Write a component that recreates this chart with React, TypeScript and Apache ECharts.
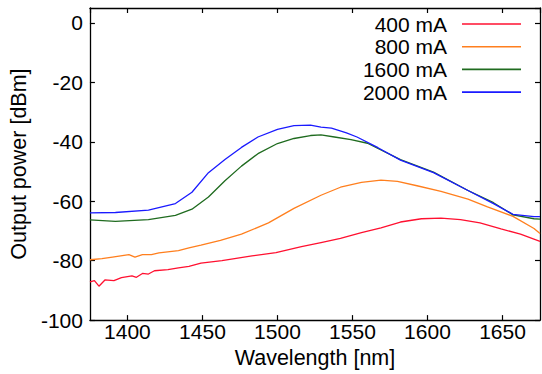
import React, { useEffect, useRef } from "react";
import * as echarts from "echarts";

// Output spectra: wavelength [nm] and output power [dBm] per drive current
const wl400 = [1375, 1378, 1381, 1385, 1391, 1396, 1403, 1406, 1410, 1414, 1418, 1427, 1434, 1441, 1449, 1463, 1483, 1499, 1516, 1529, 1542, 1556, 1569, 1582, 1596, 1609, 1622, 1635, 1649, 1662, 1675];
const pw400 = [-87.1, -86.7, -88.6, -86.5, -86.7, -85.7, -85.1, -85.6, -84.3, -84.5, -83.4, -83.0, -82.4, -81.9, -80.8, -80.0, -78.4, -77.3, -75.3, -73.9, -72.5, -70.6, -69.0, -67.0, -65.9, -65.7, -66.2, -67.3, -69.3, -71.1, -73.5];

const wl800 = [1375, 1383, 1390, 1401, 1405, 1410, 1416, 1421, 1434, 1441, 1449, 1462, 1476, 1494, 1511, 1529, 1542, 1556, 1569, 1580, 1593, 1609, 1627, 1640, 1657, 1671, 1675];
const pw800 = [-79.7, -79.3, -78.8, -78.0, -78.8, -78.0, -78.0, -77.4, -76.6, -75.7, -74.8, -73.2, -71.1, -67.3, -62.4, -58.0, -55.3, -53.7, -52.9, -53.3, -54.8, -56.7, -59.3, -61.9, -65.1, -69.2, -70.9];

const wl1600 = [1375, 1392, 1414, 1432, 1443, 1454, 1465, 1476, 1487, 1500, 1511, 1522, 1529, 1538, 1549, 1560, 1582, 1604, 1627, 1644, 1657, 1671, 1675];
const pw1600 = [-66.3, -66.8, -66.2, -64.8, -62.7, -58.6, -53.1, -48.2, -44.0, -40.6, -38.9, -37.9, -37.7, -38.4, -39.3, -40.5, -46.0, -50.2, -56.4, -60.5, -64.6, -65.9, -66.0];

const wl2000 = [1375, 1392, 1414, 1432, 1443, 1454, 1465, 1476, 1487, 1500, 1511, 1522, 1529, 1536, 1546, 1553, 1567, 1582, 1604, 1627, 1644, 1657, 1671, 1675];
const pw2000 = [-63.9, -63.8, -63.0, -60.8, -57.0, -50.4, -46.0, -41.9, -38.4, -35.8, -34.6, -34.4, -35.1, -35.4, -37.0, -38.4, -42.0, -46.2, -50.4, -56.4, -60.8, -64.4, -65.2, -65.2];

const seriesNames = ["400 mA", "800 mA", "1600 mA", "2000 mA"];
const seriesColors = ["#ff1030", "#ff7f1e", "#1f6b1f", "#1a1aff"];

const X_MIN = 1375;
const X_MAX = 1675;
const Y_MIN = -100;
const Y_MAX = 5;

const FONT = "'Liberation Sans', Arial, Helvetica, sans-serif";

function pairs(x: number[], y: number[]) {
  return x.map((v, i) => [v, y[i]]);
}

export default function App() {
  const ref = useRef<HTMLDivElement>(null);

  useEffect(() => {
    if (!ref.current) return;
    const chart = echarts.init(ref.current, undefined, { renderer: "svg" });

    const seriesData = [
      pairs(wl400, pw400),
      pairs(wl800, pw800),
      pairs(wl1600, pw1600),
      pairs(wl2000, pw2000),
    ];

    const axisLine = { show: true, onZero: false, lineStyle: { color: "#000", width: 1.3 } };
    const axisTick = { show: true, inside: true, length: 5, lineStyle: { color: "#000", width: 1.2 } };

    chart.setOption({
      animation: false,
      backgroundColor: "#fff",
      textStyle: { fontFamily: FONT },
      grid: { left: 88, right: 2, top: 8, bottom: 46, containLabel: false },
      legend: {
        orient: "vertical",
        align: "right",
        right: 21,
        top: 13.5,
        padding: 0,
        icon: "rect",
        itemWidth: 59,
        itemHeight: 1.6,
        itemGap: 1.7,
        data: seriesNames,
        textStyle: {
          fontFamily: FONT,
          fontSize: 21,
          color: "#000",
          lineHeight: 21,
          padding: [0, 10, 0, 0],
        },
      },
      xAxis: [
        {
          type: "value",
          min: X_MIN,
          max: X_MAX,
          splitNumber: 6,
          position: "bottom",
          name: "Wavelength [nm]",
          nameLocation: "middle",
          nameGap: 22,
          nameTextStyle: { fontFamily: FONT, fontSize: 21.5, color: "#000" },
          axisLine,
          axisTick,
          splitLine: { show: false },
          axisLabel: {
            fontFamily: FONT,
            fontSize: 21,
            color: "#000",
            margin: 1,
            showMinLabel: false,
            showMaxLabel: false,
            formatter: (v: number) => (v % 50 === 0 ? String(v) : ""),
          },
        },
        {
          type: "value",
          min: X_MIN,
          max: X_MAX,
          splitNumber: 6,
          position: "top",
          axisLine,
          axisTick,
          splitLine: { show: false },
          axisLabel: { show: false },
        },
      ],
      yAxis: [
        {
          type: "value",
          min: Y_MIN,
          max: Y_MAX,
          interval: 20,
          position: "left",
          name: "Output power [dBm]",
          nameLocation: "middle",
          nameGap: 54,
          nameTextStyle: { fontFamily: FONT, fontSize: 21.5, color: "#000" },
          axisLine,
          axisTick,
          splitLine: { show: false },
          axisLabel: {
            fontFamily: FONT,
            fontSize: 21,
            color: "#000",
            margin: 7,
            showMaxLabel: false,
            formatter: (v: number) => (v % 20 === 0 ? String(v) : ""),
          },
        },
        {
          type: "value",
          min: Y_MIN,
          max: Y_MAX,
          interval: 20,
          position: "right",
          axisLine,
          axisTick,
          splitLine: { show: false },
          axisLabel: { show: false },
        },
      ],
      series: seriesNames.map((name, i) => ({
        name,
        type: "line",
        xAxisIndex: 0,
        yAxisIndex: 0,
        data: seriesData[i],
        showSymbol: false,
        symbol: "none",
        smooth: false,
        lineStyle: { color: seriesColors[i], width: 1.3 },
        itemStyle: { color: seriesColors[i] },
        z: 2 + i,
      })),
    });

    return () => {
      chart.dispose();
    };
  }, []);

  return <div ref={ref} style={{ width: 542, height: 374, position: "fixed", left: 0, top: 0 }} />;
}
